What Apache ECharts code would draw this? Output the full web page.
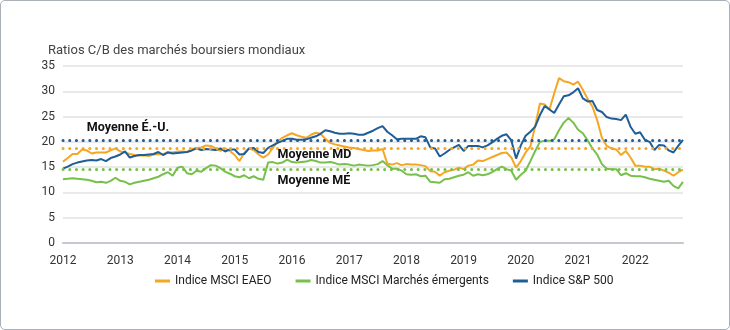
<!DOCTYPE html>
<html>
<head>
<meta charset="utf-8">
<script src="https://cdn.jsdelivr.net/npm/echarts@6/dist/echarts.min.js"></script>
<style>
html,body{margin:0;padding:0;background:#fff;}
#wrap{position:absolute;left:0;top:0;width:728px;height:328px;border:1px solid #aab0b8;border-radius:5px;}
#chart{position:absolute;left:-1px;top:-1px;width:730px;height:330px;}
</style>
</head>
<body>
<div id="wrap"><div id="chart"></div></div>
<script>
// Monthly data, Jan 2012 – Nov 2022
const startYear = 2012;
const nMonths = 131;
const months = [];
for (let i = 0; i < nMonths; i++) {
  const y = startYear + Math.floor(i / 12);
  const m = (i % 12) + 1;
  months.push(y + '-' + (m < 10 ? '0' + m : m));
}

const eafe = [
16.1,16.8,17.6,17.6,18.5,18.3,17.7,17.9,17.9,17.9,18.3,18.7,
18.1,17.9,17.6,17.4,17.3,17.3,17.2,17.5,17.6,17.5,18.0,17.9,
18.1,18.1,18.0,18.6,18.8,18.9,19.3,19.2,18.7,18.2,18.7,18.2,
17.4,16.2,17.8,18.7,18.4,17.5,16.9,17.5,18.8,20.1,20.8,21.3,
21.7,21.3,21.0,20.8,21.4,21.8,21.6,20.6,19.8,19.5,19.3,19.1,
18.9,18.8,18.6,18.4,18.2,18.3,18.3,18.6,15.7,15.5,15.8,15.4,
15.6,15.5,15.5,15.4,15.2,14.2,14.1,13.3,14.0,14.3,14.5,14.9,
14.6,15.3,15.5,16.3,16.2,16.6,17.0,17.4,17.8,17.9,16.9,14.9,
16.2,17.9,19.1,23.1,27.6,27.4,26.4,29.6,32.6,32.0,31.8,31.3,
31.9,30.3,28.5,27.0,24.3,20.8,19.2,18.7,18.5,17.4,18.2,16.9,
15.3,15.3,15.1,15.1,14.6,14.7,14.3,13.9,13.3,14.0,14.5
];

const em = [
12.6,12.7,12.8,12.7,12.6,12.5,12.3,12.0,12.1,11.9,12.3,12.9,
12.3,12.1,11.6,11.9,12.1,12.3,12.5,12.8,13.1,13.6,14.0,13.3,
14.9,15.1,13.8,13.6,14.3,14.1,14.8,15.4,15.3,14.8,14.1,13.7,
13.2,13.0,13.4,12.8,13.2,12.7,12.5,15.9,16.0,15.7,15.9,16.5,
16.0,15.9,16.0,16.1,16.4,16.2,15.9,15.9,16.0,15.8,15.5,15.6,
15.5,15.3,15.5,15.4,15.3,15.4,15.6,16.2,15.4,14.7,14.7,14.3,
13.6,13.5,13.6,13.2,13.3,12.1,12.0,11.9,12.6,12.7,13.0,13.3,
13.5,14.0,13.3,13.6,13.4,13.6,14.0,14.6,15.1,14.6,14.3,12.5,
13.5,14.3,16.2,18.2,20.0,20.2,20.2,20.5,22.3,23.8,24.7,23.8,
22.4,21.7,20.3,18.7,17.5,15.6,14.7,14.6,14.6,13.4,13.8,13.3,
13.2,13.2,13.0,12.7,12.5,12.3,12.1,12.3,11.3,10.8,12.1
];

const sp500 = [
14.7,15.1,15.6,15.9,16.1,16.3,16.4,16.3,16.6,16.2,16.8,17.1,
17.5,18.1,16.9,17.2,17.4,17.4,17.5,17.6,18.0,17.4,17.9,17.7,
17.8,17.9,18.0,18.3,18.7,18.4,18.6,18.5,18.4,18.7,18.1,18.5,
18.5,17.5,17.6,18.7,18.8,18.0,17.8,18.8,19.3,19.8,20.2,20.6,
20.6,20.4,20.4,20.5,20.8,21.1,21.6,22.3,22.1,21.8,21.6,21.6,
21.7,21.6,21.4,21.4,21.8,22.2,22.7,23.1,22.0,21.3,20.5,20.6,
20.6,20.6,20.6,21.1,20.9,18.9,18.7,17.1,17.7,18.4,18.9,19.4,
18.2,19.2,19.2,19.2,18.9,19.3,19.9,20.6,21.2,21.5,20.3,16.7,
19.3,21.2,22.0,23.0,25.3,27.1,26.4,25.7,27.4,29.0,29.2,29.8,
30.6,28.6,28.0,28.1,26.3,25.9,24.9,24.6,24.5,24.3,25.4,23.0,
21.6,21.9,20.4,20.0,18.4,19.4,19.3,18.3,17.9,19.2,20.4
];

// Long-run averages (dotted lines)
const avgUS = 20.4;
const avgMD = 18.7;
const avgME = 14.6;

const seriesNames = ['Indice MSCI EAEO', 'Indice MSCI Marchés émergents', 'Indice S&P 500'];
const colors = ['#f5a623', '#76c04b', '#1f5d96'];
const annotations = [
  { text: 'Moyenne É.-U.', idx: 5, value: 22.8 },
  { text: 'Moyenne MD', idx: 45, value: 17.4 },
  { text: 'Moyenne MÉ', idx: 45, value: 12.3 }
];

const FONT = 'Roboto, "Noto Sans", sans-serif';
const chart = echarts.init(document.getElementById('chart'), null, { renderer: 'canvas' });

function avgLine(v, color) {
  return {
    silent: true,
    symbol: 'none',
    label: { show: false },
    lineStyle: { color: color, width: 3, type: [0.1, 6.6], cap: 'round' },
    data: [{ yAxis: v }]
  };
}

const option = {
  backgroundColor: 'transparent',
  animation: false,
  title: {
    text: 'Ratios C/B des marchés boursiers mondiaux',
    left: 43, top: 39,
    textStyle: { fontFamily: FONT, fontSize: 13, fontWeight: 'normal', color: '#444' }
  },
  grid: { left: 63, right: 47, top: 66, bottom: 87, containLabel: false },
  legend: {
    bottom: 38,
    left: 150,
    icon: 'rect',
    itemWidth: 15, itemHeight: 3,
    itemGap: 24,
    textStyle: { fontFamily: FONT, fontSize: 12, color: '#222' },
    data: seriesNames
  },
  xAxis: {
    type: 'category',
    data: months,
    boundaryGap: false,
    axisLine: { lineStyle: { color: '#c5c8cc', width: 2 } },
    axisTick: { show: false },
    axisLabel: {
      interval: function (i) { return i % 12 === 0; },
      formatter: function (v) { return v.slice(0, 4); },
      fontFamily: FONT, fontSize: 12, color: '#333', margin: 12
    },
    splitLine: { show: false }
  },
  yAxis: {
    type: 'value',
    min: 0, max: 35, interval: 5,
    axisLine: { show: false },
    axisTick: { show: false },
    axisLabel: { fontFamily: FONT, fontSize: 12, color: '#333', margin: 8 },
    splitLine: { lineStyle: { color: '#e2e2e2', width: 1.5 } }
  },
  series: [
    {
      name: seriesNames[0], type: 'line', data: eafe, symbol: 'none',
      lineStyle: { width: 2, color: colors[0] }, itemStyle: { color: colors[0] },
      markLine: avgLine(avgMD, colors[0]), z: 3
    },
    {
      name: seriesNames[1], type: 'line', data: em, symbol: 'none',
      lineStyle: { width: 2, color: colors[1] }, itemStyle: { color: colors[1] },
      markLine: avgLine(avgME, colors[1]), z: 2
    },
    {
      name: seriesNames[2], type: 'line', data: sp500, symbol: 'none',
      lineStyle: { width: 2, color: colors[2] }, itemStyle: { color: colors[2] },
      markLine: avgLine(avgUS, colors[2]), z: 4
    }
  ]
};
chart.setOption(option);

const g = annotations.map(function (a) {
  const p = chart.convertToPixel({ gridIndex: 0 }, [a.idx, a.value]);
  return {
    type: 'text', x: p[0], y: p[1], z: 100,
    style: {
      text: a.text, fill: '#111', font: 'bold 12.5px ' + FONT,
      textAlign: 'left', textVerticalAlign: 'middle'
    }
  };
});
chart.setOption({ graphic: g });
</script>
</body>
</html>
